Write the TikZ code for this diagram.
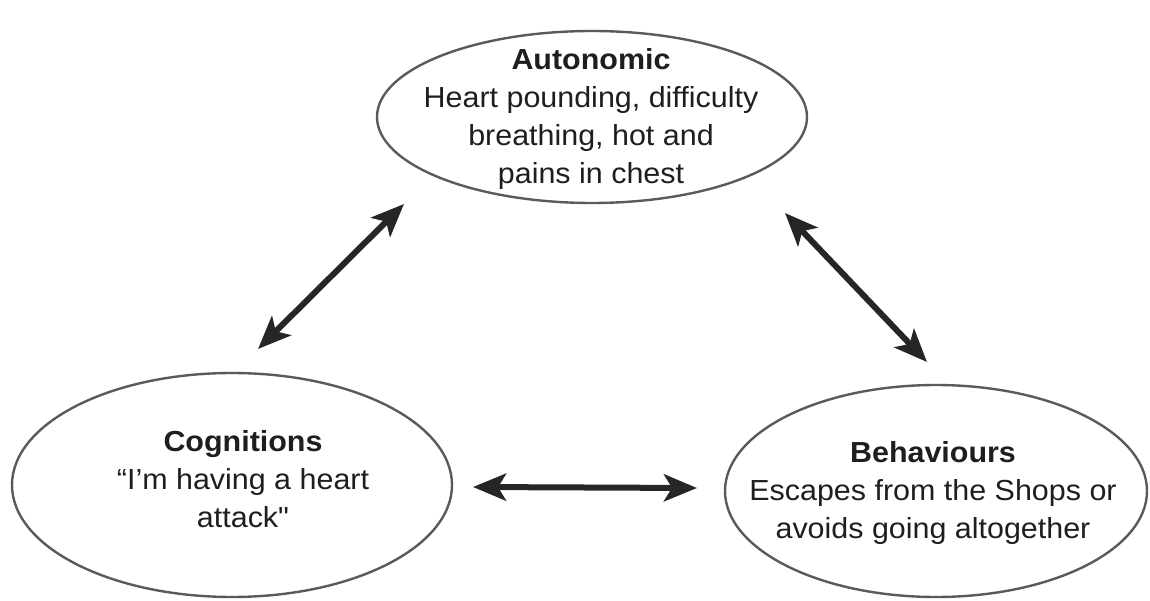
\documentclass[tikz,border=0pt]{standalone}
\usepackage{fontspec}
\setmainfont{Liberation Sans}[Ligatures=TeXOff, FakeStretch=1.05]
\usetikzlibrary{arrows.meta}
\definecolor{rim}{HTML}{5A5A5A}
\definecolor{ink}{HTML}{262626}
\definecolor{txt}{HTML}{1E1E1E}
\tikzset{
  rimline/.style={draw=rim, line width=2.4pt},
  label text/.style={inner sep=0pt, align=center, text=txt,
    font=\fontsize{29}{38}\selectfont},
  twoway/.style={draw=ink, line width=6pt,
    {Stealth[length=33pt,width=27pt,inset=8pt]}-{Stealth[length=33pt,width=27pt,inset=8pt]}}
}
\begin{document}
\begin{tikzpicture}[x=1pt,y=-1pt]
\useasboundingbox (0,0) rectangle (1150,601);
% ellipses
\draw[rimline] (592,117) ellipse [x radius=215pt, y radius=86pt];
\draw[rimline] (232,485) ellipse [x radius=220pt, y radius=112pt];
\draw[rimline] (936,491) ellipse [x radius=211pt, y radius=106pt];
% texts
\node[label text] (auto) at (591,119)
  {\textbf{Autonomic}\\Heart pounding, difficulty\\breathing, hot and\\pains in chest};
\node[label text] (cog) at (243,479)
  {\textbf{Cognitions}\\“I’m having a heart\\attack"};
\node[label text] (beh) at (933,493)
  {\textbf{Behaviours}\\Escapes from the Shops or\\avoids going altogether};
% connectors
\coordinate (l1) at (258,349);
\coordinate (l2) at (404,204);
\coordinate (r1) at (785,213);
\coordinate (r2) at (927,362);
\coordinate (b1) at (473,487);
\coordinate (b2) at (697,488);
\draw[twoway] (l1) -- (l2);
\draw[twoway] (r1) -- (r2);
\draw[twoway] (b1) -- (b2);
\end{tikzpicture}
\end{document}
